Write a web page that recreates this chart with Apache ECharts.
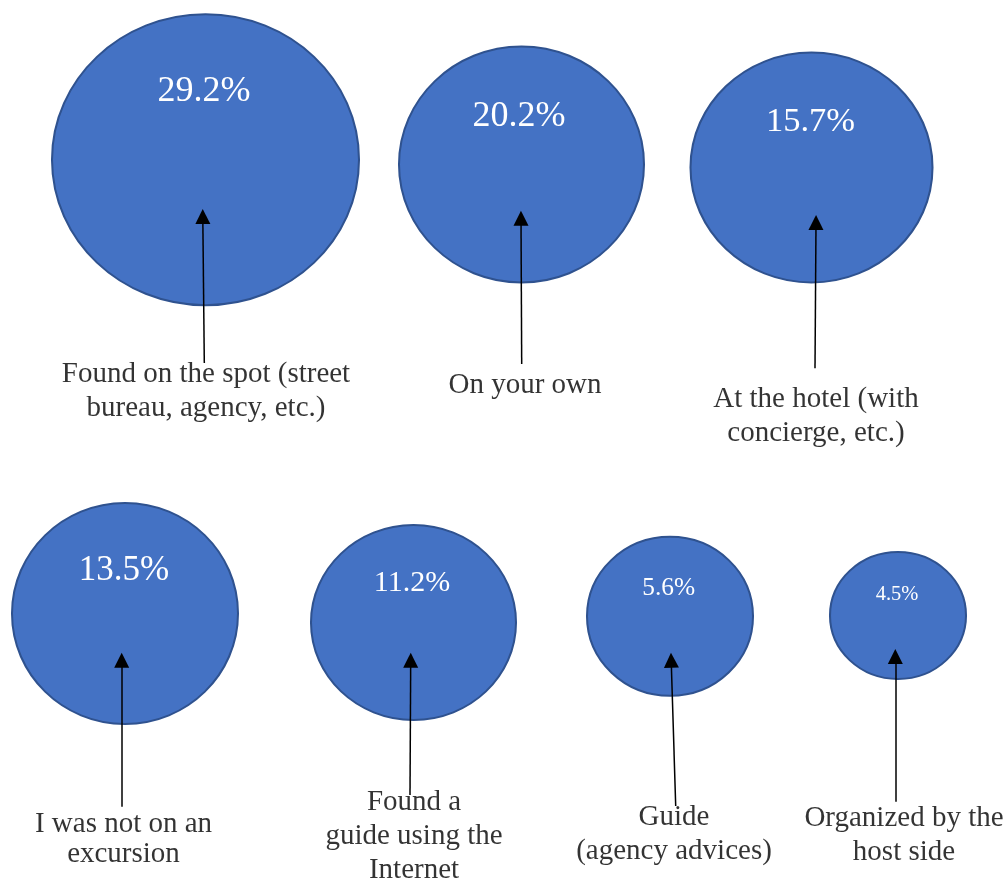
<!DOCTYPE html>
<html>
<head>
<meta charset="utf-8">
<title>Excursions</title>
<script src="https://cdn.jsdelivr.net/npm/echarts@6/dist/echarts.min.js"></script>
<style>
html, body { margin: 0; padding: 0; background: #fff; }
#main { width: 1008px; height: 879px; }
</style>
</head>
<body>
<div id="main"></div>
<script>
// data
var categories = [
	'Found on the spot (street\nbureau, agency, etc.)',
	'On your own',
	'At the hotel (with\nconcierge, etc.)',
	'I was not on an\nexcursion',
	'Found a\nguide using the\nInternet',
	'Guide\n(agency advices)',
	'Organized by the\nhost side'
];
var shares = [29.2, 20.2, 15.7, 13.5, 11.2, 5.6, 4.5];

// layout (page pixels, the axes below run 0..1008 / 0..879)
var bubbleCenters = [[205.5, 159.7], [521.5, 164.5], [811.5, 167.5], [125, 613.5], [413.5, 622.5], [670, 616.3], [898, 615.5]];
var bubbleSizes = [[307, 291], [245, 236], [242, 230], [226, 221], [205, 195], [166, 159], [136, 127]];
var pctFont = [36, 36, 34.5, 35, 30, 25.4, 20.5];
var pctOffset = [[-1.5, -68.2], [-2.5, -48], [-1, -45.6], [-1, -42.8], [-1.5, -39.1], [-1.3, -27.6], [-1, -20.9]];
var arrowTails = [[204.3, 363], [521.7, 364], [815, 368.3], [121.7, 806.7], [410, 795], [675.7, 806], [895.3, 801.7]];
var arrowHeads = [[202.8, 216.5], [521, 218.2], [816, 222.5], [121.7, 660.2], [410.7, 660.2], [671.2, 660.2], [895.3, 656.5]];
var captionAnchors = [[206, 357.4], [525, 368.4], [816, 382.4], [123.5, 808.9], [414, 785.7], [674, 800.7], [904, 801.7]];
var captionLineHeight = [34, 34, 34, 30, 34, 34, 34];

var ellipse = 'path://M50,0 C77.6,0 100,22.4 100,50 C100,77.6 77.6,100 50,100 C22.4,100 0,77.6 0,50 C0,22.4 22.4,0 50,0 Z';
var serif = '"Liberation Serif", "Times New Roman", serif';

var bubbles = [], arrows = [], captions = [];
for (var i = 0; i < shares.length; i++) {
	bubbles.push({
		value: [bubbleCenters[i][0], bubbleCenters[i][1], shares[i]],
		symbolSize: bubbleSizes[i],
		label: {
			fontSize: pctFont[i],
			offset: pctOffset[i]
		}
	});
	arrows.push({
		coords: [arrowTails[i], arrowHeads[i]]
	});
	captions.push({
		value: captionAnchors[i],
		label: {
			lineHeight: captionLineHeight[i]
		}
	});
}

var myChart = echarts.init(document.getElementById('main'));
myChart.setOption({
	animation: false,
	grid: {
		left: 0,
		right: 0,
		top: 0,
		bottom: 0
	},
	xAxis: {
		type: 'value',
		min: 0,
		max: 1008,
		show: false
	},
	yAxis: {
		type: 'value',
		min: 0,
		max: 879,
		inverse: true,
		show: false
	},
	series: [{
		name: 'share',
		type: 'scatter',
		z: 2,
		symbol: ellipse,
		data: bubbles,
		itemStyle: {
			color: '#4472C4',
			borderColor: '#2F528F',
			borderWidth: 2,
			opacity: 1
		},
		label: {
			show: true,
			position: 'inside',
			align: 'center',
			verticalAlign: 'middle',
			color: '#fff',
			fontFamily: serif,
			formatter: function(p) {
				return shares[p.dataIndex].toFixed(1) + '%';
			}
		}
	}, {
		name: 'arrows',
		type: 'lines',
		coordinateSystem: 'cartesian2d',
		z: 3,
		symbol: ['none', 'triangle'],
		symbolSize: 15,
		lineStyle: {
			color: '#000',
			width: 1.5,
			opacity: 1,
			curveness: 0
		},
		data: arrows
	}, {
		name: 'captions',
		type: 'scatter',
		z: 4,
		symbolSize: 1,
		itemStyle: {
			color: 'rgba(0,0,0,0)'
		},
		data: captions,
		label: {
			show: true,
			position: 'inside',
			align: 'center',
			verticalAlign: 'top',
			color: '#000',
			fontSize: 29,
			fontFamily: serif,
			formatter: function(p) {
				return categories[p.dataIndex];
			}
		}
	}]
});
</script>
</body>
</html>
